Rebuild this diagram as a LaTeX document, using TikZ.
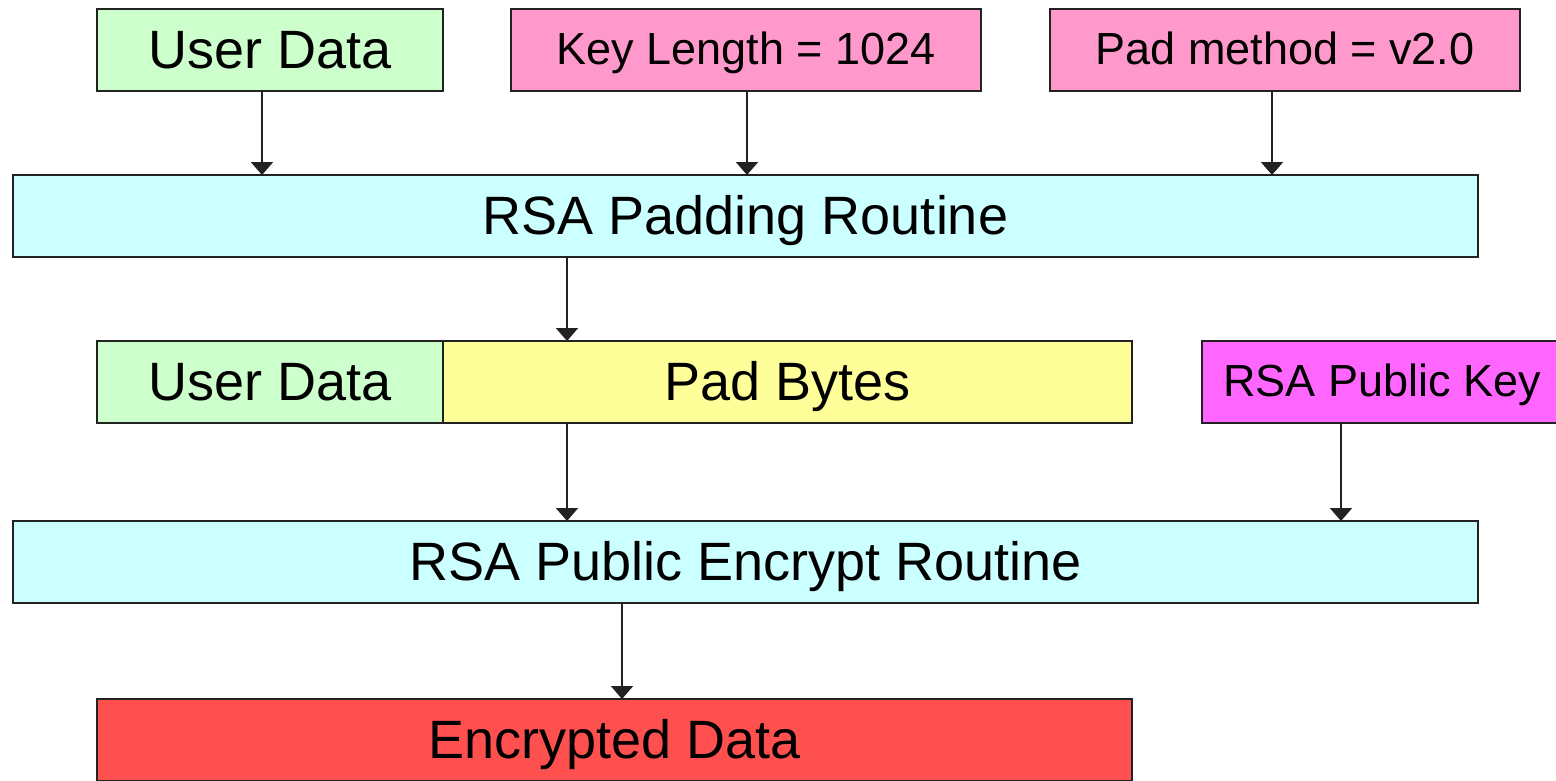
\documentclass[tikz,border=0pt]{standalone}
\usepackage{fontspec}
\setmainfont{Liberation Sans}
\usetikzlibrary{arrows.meta}
\definecolor{cgreen}{HTML}{CCFFCC}
\definecolor{cpink}{HTML}{FF99CC}
\definecolor{ccyan}{HTML}{CCFFFF}
\definecolor{cyellow}{HTML}{FFFF99}
\definecolor{cmagenta}{HTML}{FF66FF}
\definecolor{cred}{HTML}{FF5050}
\definecolor{cline}{HTML}{222222}
\tikzset{
  box/.style={draw=cline, line width=2pt, inner sep=0pt, outer sep=0pt, minimum height=82pt,
    font=\fontsize{54}{60}\selectfont, text=black, text height=37pt, text depth=0pt},
  sbox/.style={box, font=\fontsize{45}{52}\selectfont, text height=29pt},
  arr/.style={draw=cline, line width=2pt, -{Triangle[width=22pt,length=13pt]}},
}
\begin{document}
\begin{tikzpicture}[x=1pt,y=-1pt]
\useasboundingbox (0,0) rectangle (1556,780);
\clip (0,0) rectangle (1556,780);
\fill[white] (0,0) rectangle (1556,780);
\node[box, fill=cgreen, minimum width=346pt] (ud1) at (270,50) {User Data};
\node[sbox, fill=cpink, minimum width=470pt] (kl) at (746,50) {Key Length = 1024};
\node[sbox, fill=cpink, minimum width=470pt] (pm) at (1285,50) {Pad method = v2.0};
\node[box, fill=ccyan, minimum width=1465pt] (pad) at (745.5,216) {RSA Padding Routine};
\node[box, fill=cgreen, minimum width=346pt] (ud2) at (270,382) {User Data};
\node[box, fill=cyellow, minimum width=689pt] (pb) at (787.5,382) {Pad Bytes};
\node[sbox, fill=cmagenta, minimum width=360pt] (pk) at (1382,382) {RSA Public Key};
\node[box, fill=ccyan, minimum width=1465pt] (enc) at (745.5,562) {RSA Public Encrypt Routine};
\node[box, fill=cred, minimum width=1035pt] (ed) at (614.5,740) {Encrypted Data};
\coordinate (a1) at ([xshift=-8pt]ud1.south);
\coordinate (a2) at ([xshift=1pt]kl.south);
\coordinate (a3) at ([xshift=-13pt]pm.south);
\coordinate (a4) at ([xshift=-178.5pt]pad.south);
\coordinate (a5) at ([xshift=-220.5pt]pb.south);
\coordinate (a6) at ([xshift=-41pt]pk.south);
\coordinate (a7) at ([xshift=-123.5pt]enc.south);
\draw[arr] (a1) -- (a1 |- pad.north);
\draw[arr] (a2) -- (a2 |- pad.north);
\draw[arr] (a3) -- (a3 |- pad.north);
\draw[arr] (a4) -- (a4 |- pb.north);
\draw[arr] (a5) -- (a5 |- enc.north);
\draw[arr] (a6) -- (a6 |- enc.north);
\draw[arr] (a7) -- (a7 |- ed.north);
\end{tikzpicture}
\end{document}
